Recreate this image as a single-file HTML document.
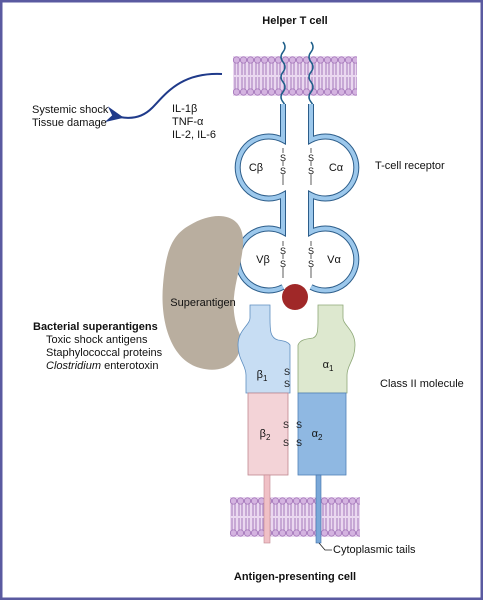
<!DOCTYPE html>
<html><head><meta charset="utf-8"><style>
html,body{margin:0;padding:0;background:#fff}
svg{display:block}
text{font-family:"Liberation Sans",sans-serif;font-size:11px;fill:#111}
.b{font-weight:bold}
</style></head><body>
<svg width="483" height="600" viewBox="0 0 483 600">
<defs>
<g id="lipcell">
<rect width="7" height="40" fill="#ead8f0"/>
<line x1="2" y1="6" x2="2" y2="19" stroke="#9c6cb4" stroke-width="0.9"/>
<line x1="5" y1="6" x2="5" y2="19" stroke="#9c6cb4" stroke-width="0.9"/>
<line x1="2" y1="21" x2="2" y2="34" stroke="#9c6cb4" stroke-width="0.9"/>
<line x1="5" y1="21" x2="5" y2="34" stroke="#9c6cb4" stroke-width="0.9"/>
<circle cx="3.5" cy="4" r="3.2" fill="#d4b3e0" stroke="#9c6cb4" stroke-width="0.7"/>
<circle cx="3.5" cy="36" r="3.2" fill="#d4b3e0" stroke="#9c6cb4" stroke-width="0.7"/>
</g>
<pattern id="lip1" x="233" y="56" width="7" height="40" patternUnits="userSpaceOnUse"><use href="#lipcell"/></pattern>
<pattern id="lip2" x="230" y="497" width="7" height="40" patternUnits="userSpaceOnUse"><use href="#lipcell"/></pattern>
<marker id="ah" markerWidth="10" markerHeight="8" refX="2" refY="4" orient="auto"><path d="M9,0 L0,4 L9,8 L6,4 Z" fill="#1f3a8a"/></marker>
</defs>
<rect x="1" y="1" width="481" height="598" fill="#fff" stroke="#5a5aa0" stroke-width="3"/>

<text x="295" y="24" text-anchor="middle" class="b">Helper T cell</text>
<rect x="233" y="56" width="124" height="40" fill="url(#lip1)"/>
<path d="M283,42 q4,5 0,10 q-4,5 0,10 q4,5 0,10 q-4,5 0,10 q4,5 0,10 q-4,5 0,10 q4,5 0,8" fill="none" stroke="#1f5f8a" stroke-width="1.5"/>
<path d="M311,42 q4,5 0,10 q-4,5 0,10 q4,5 0,10 q-4,5 0,10 q4,5 0,10 q-4,5 0,10 q4,5 0,8" fill="none" stroke="#1f5f8a" stroke-width="1.5"/>

<path d="M222,74 C180,72 165,95 152,108 C142,118 130,119 120,117" fill="none" stroke="#1f3a8a" stroke-width="2" marker-end="url(#ah)"/>
<text x="32" y="113">Systemic shock</text>
<text x="32" y="126">Tissue damage</text>
<text x="172" y="112">IL-1β</text>
<text x="172" y="125">TNF-α</text>
<text x="172" y="138">IL-2, IL-6</text>

<g fill="none" stroke="#2c5d8a" stroke-width="6">
<path d="M283,104 V140 A31,31 0 1 0 283,195 V232 A31,31 0 1 0 283,287"/>
<path d="M311,104 V140 A31,31 0 1 1 311,195 V232 A31,31 0 1 1 311,287"/>
</g>
<g fill="none" stroke="#9cc8ec" stroke-width="4">
<path d="M283,104 V140 A31,31 0 1 0 283,195 V232 A31,31 0 1 0 283,287"/>
<path d="M311,104 V140 A31,31 0 1 1 311,195 V232 A31,31 0 1 1 311,287"/>
</g>
<text x="256" y="171" text-anchor="middle">Cβ</text>
<text x="336" y="171" text-anchor="middle">Cα</text>
<text x="263" y="263" text-anchor="middle">Vβ</text>
<text x="334" y="263" text-anchor="middle">Vα</text>
<g>
<line x1="283" y1="148" x2="283" y2="185" stroke="#333" stroke-width="0.8"/>
<line x1="311" y1="148" x2="311" y2="185" stroke="#333" stroke-width="0.8"/>
<line x1="283" y1="241" x2="283" y2="278" stroke="#333" stroke-width="0.8"/>
<line x1="311" y1="241" x2="311" y2="278" stroke="#333" stroke-width="0.8"/>
<g text-anchor="middle">
<rect x="279" y="153" width="8" height="8" fill="#fff"/><rect x="279" y="166" width="8" height="8" fill="#fff"/>
<rect x="307" y="153" width="8" height="8" fill="#fff"/><rect x="307" y="166" width="8" height="8" fill="#fff"/>
<rect x="279" y="246" width="8" height="8" fill="#fff"/><rect x="279" y="259" width="8" height="8" fill="#fff"/>
<rect x="307" y="246" width="8" height="8" fill="#fff"/><rect x="307" y="259" width="8" height="8" fill="#fff"/>
<text x="283" y="161" style="font-size:9px">S</text><text x="283" y="174" style="font-size:9px">S</text>
<text x="311" y="161" style="font-size:9px">S</text><text x="311" y="174" style="font-size:9px">S</text>
<text x="283" y="254" style="font-size:9px">S</text><text x="283" y="267" style="font-size:9px">S</text>
<text x="311" y="254" style="font-size:9px">S</text><text x="311" y="267" style="font-size:9px">S</text>
</g></g>
<text x="375" y="169">T-cell receptor</text>

<path d="M190,225 C215,210 245,212 243,245 C241,275 225,300 240,335 C245,360 225,375 200,368 C170,360 160,320 163,285 C166,250 172,235 190,225 Z" fill="#b9ae9f"/>
<text x="203" y="306" text-anchor="middle">Superantigen</text>
<circle cx="295" cy="297" r="13" fill="#a02828"/>

<path d="M250,305 H270 V318 C270,330 270,338 278,340 C285,341 288,342 290,345 V393 H246 V375 C246,365 238,360 238,345 C238,330 250,325 250,318 Z" fill="#c7ddf3" stroke="#5f8fc0" stroke-width="0.8"/>
<path d="M318,305 H343 V318 C343,325 355,330 355,345 C355,360 347,365 347,375 V393 H298 V345 C300,340 305,339 313,338 C318,336 318,330 318,318 Z" fill="#dde8cf" stroke="#8ea878" stroke-width="0.8"/>
<rect x="248" y="393" width="40" height="82" fill="#f3d3d7" stroke="#c08890" stroke-width="0.8"/>
<rect x="298" y="393" width="48" height="82" fill="#8fb8e2" stroke="#4f80b8" stroke-width="0.8"/>
<text x="262" y="378" text-anchor="middle">β<tspan dy="3" style="font-size:8px">1</tspan></text>
<text x="328" y="368" text-anchor="middle">α<tspan dy="3" style="font-size:8px">1</tspan></text>
<text x="265" y="437" text-anchor="middle">β<tspan dy="3" style="font-size:8px">2</tspan></text>
<text x="317" y="437" text-anchor="middle">α<tspan dy="3" style="font-size:8px">2</tspan></text>
<g text-anchor="middle">
<text x="287" y="375" style="font-size:9px">S</text><text x="287" y="387" style="font-size:9px">S</text>
<text x="286" y="428" style="font-size:9px">S</text><text x="286" y="446" style="font-size:9px">S</text>
<text x="299" y="428" style="font-size:9px">S</text><text x="299" y="446" style="font-size:9px">S</text>
</g>
<text x="380" y="387">Class II molecule</text>

<text x="33" y="330" class="b">Bacterial superantigens</text>
<text x="46" y="343">Toxic shock antigens</text>
<text x="46" y="356">Staphylococcal proteins</text>
<text x="46" y="369"><tspan font-style="italic">Clostridium</tspan> enterotoxin</text>

<rect x="230" y="497" width="130" height="40" fill="url(#lip2)"/>
<rect x="264" y="475" width="6" height="68" fill="#f0c0c6" stroke="#c08890" stroke-width="0.6"/>
<rect x="316" y="475" width="5" height="68" fill="#7aa8d8" stroke="#3f70a8" stroke-width="0.6"/>
<path d="M319,543 L325,550 H332" fill="none" stroke="#222" stroke-width="0.8"/>
<text x="333" y="553">Cytoplasmic tails</text>
<text x="295" y="580" text-anchor="middle" class="b">Antigen-presenting cell</text>
</svg>
</body></html>
